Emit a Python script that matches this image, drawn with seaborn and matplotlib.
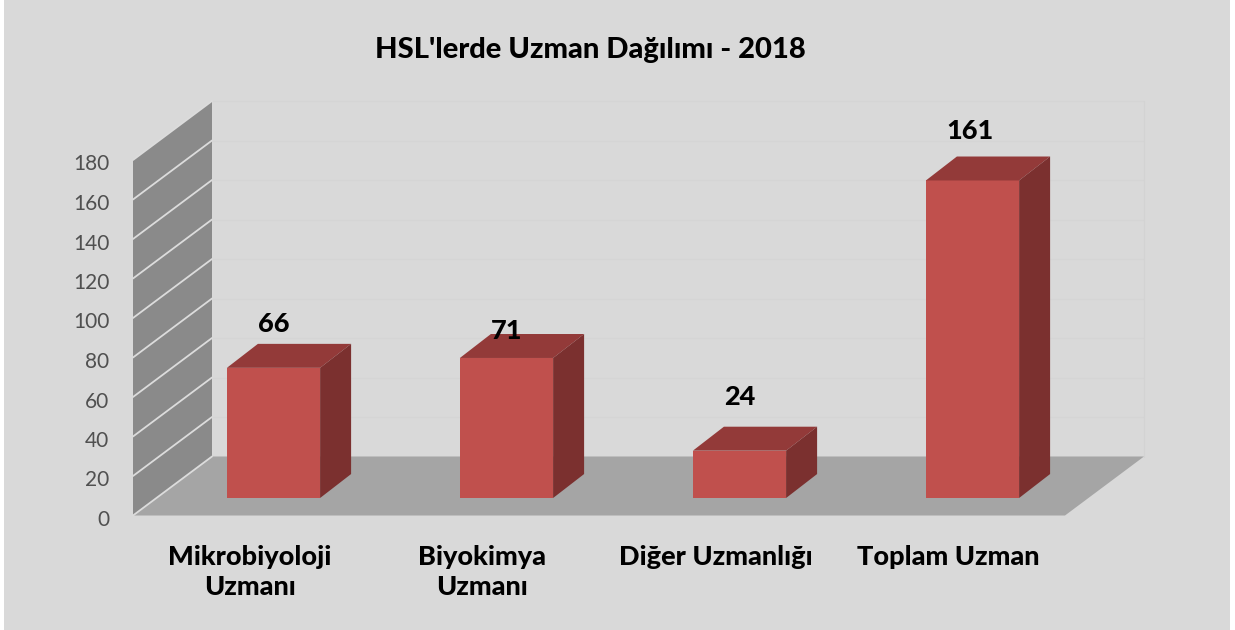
import matplotlib
matplotlib.use("Agg")
import matplotlib.pyplot as plt
import seaborn as sns
from matplotlib.patches import Polygon, Rectangle
from matplotlib.transforms import ScaledTranslation

categories = ["Mikrobiyoloji\nUzmanı", "Biyokimya\nUzmanı", "Diğer Uzmanlığı", "Toplam Uzman"]
values = [66, 71, 24, 161]
y_ticks = [0, 20, 40, 60, 80, 100, 120, 140, 160, 180]
title = "HSL'lerde Uzman Dağılımı - 2018"
label_offsets = [22, 13.7, 27, 25]
label_nudges = [0, 0, 0, -0.012]

W, H = 1235, 630
sns.set_theme(style="white")
plt.rcParams["font.family"] = ["Lato", "DejaVu Sans"]

BG = "#d9d9d9"
fig = plt.figure(figsize=(W / 100, H / 100), dpi=100, facecolor="white")
fig.add_artist(Rectangle((4 / W, 0), (1230 - 4) / W, 1, transform=fig.transFigure, fc=BG, ec="none", zorder=-5))


def axes_px(x0, x1, y_bottom, y_top):
    return fig.add_axes([x0 / W, 1 - y_bottom / H, (x1 - x0) / W, (y_bottom - y_top) / H])


# front plane of the 3D box
ax = axes_px(133, 1065, 515.5, 160)
ax.set_xlim(-0.5, 3.5)
ax.set_ylim(0, 180)
ax.patch.set_alpha(0)
sns.despine(ax=ax, left=True, bottom=True)
ax.set_xticks(range(len(categories)))
ax.set_xticklabels(categories, fontsize=19.5, fontweight="black", color="black", linespacing=1.32, va="top")
ax.set_yticks(y_ticks)
ax.set_yticklabels(y_ticks, fontsize=15, color="#505050")
ax.tick_params(axis="x", length=0, pad=21)
ax.tick_params(axis="y", length=0, pad=17)
shift = ScaledTranslation(0, -2.5 / 100, fig.dpi_scale_trans)
for lab in ax.get_yticklabels():
    lab.set_transform(lab.get_transform() + shift)

DX = 79 / 233  # box depth in category units
DY = 59 / (355.5 / 180)  # box depth in value units
x_l, x_r = -0.5, 3.5
wall = Polygon([(x_l, 0), (x_l, 180), (x_l + DX, 180 + DY), (x_l + DX, DY)], fc="#8a8a8a", ec="none", clip_on=False)
floor = Polygon([(x_l, 0), (x_r, 0), (x_r + DX, DY), (x_l + DX, DY)], fc="#a5a5a5", ec="none", clip_on=False)
ax.add_patch(floor)
ax.add_patch(wall)
for t in y_ticks:
    ax.plot([x_l, x_l + DX], [t, t + DY], color="#dcdcdc", lw=1.3, clip_on=False, zorder=3)
    if t:
        ax.plot([x_l + DX, x_r + DX], [t + DY, t + DY], color="#d5d5d5", lw=0.8, clip_on=False, zorder=1)
ax.plot([x_r + DX, x_r + DX], [DY, 180 + DY], color="#d3d3d3", lw=0.8, clip_on=False, zorder=1)

# plane of the bar fronts
bx = axes_px(157, 1089, 498, 143)
bx.patch.set_alpha(0)
sns.barplot(x=list(range(4)), y=values, ax=bx, width=0.4, color="#c0504d", saturation=1, linewidth=0, edgecolor="none")
bx.set_xlim(-0.5, 3.5)
bx.set_ylim(0, 180)
bx.axis("off")

ddx = 31 / 233
ddy = 24 / (355.5 / 180)
for i, v in enumerate(values):
    l, r = i - 0.2, i + 0.2
    bx.add_patch(Polygon([(l, v), (r, v), (r + ddx, v + ddy), (l + ddx, v + ddy)], fc="#933a39", ec="none", clip_on=False))
    bx.add_patch(Polygon([(r, 0), (r, v), (r + ddx, v + ddy), (r + ddx, ddy)], fc="#7b302f", ec="none", clip_on=False))
    bx.text(i + label_nudges[i], v + label_offsets[i], str(v), ha="center", va="center", fontsize=19.5, fontweight="black", color="black", clip_on=False, zorder=6)

fig.text(590 / W, 1 - 50 / H, title, ha="center", va="center", fontsize=21, fontweight="black", color="black")
fig.savefig("out.png", dpi=100, facecolor="white")
